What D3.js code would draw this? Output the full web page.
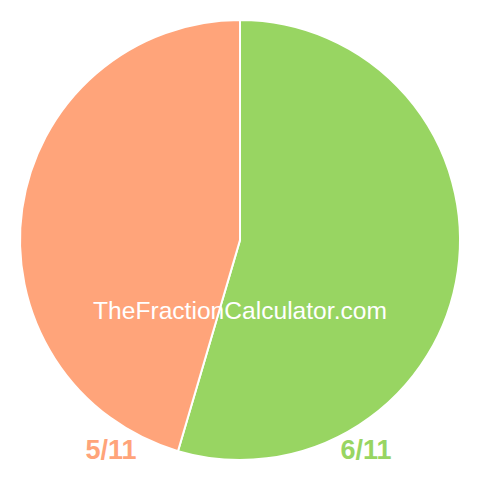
<!DOCTYPE html>
<html><head><meta charset="utf-8">
<script src="https://cdn.jsdelivr.net/npm/d3@7"></script>
<style>body{margin:0;background:#fff}svg{display:block}</style>
</head><body>
<svg width="480" height="480"></svg>
<script>
const labels = ["6/11", "5/11"];
const values = [6, 5];
const colors = ["#98D562", "#FFA47A"];
const watermark = "TheFractionCalculator.com";

const svg = d3.select("svg");
const cx = 240, cy = 240, r = 220;
const pie = d3.pie().sort(null).value(d => d)(values);
const arc = d3.arc().innerRadius(0).outerRadius(r);
const g = svg.append("g").attr("transform", `translate(${cx},${cy})`);
g.selectAll("path").data(pie).join("path")
  .attr("d", arc)
  .attr("fill", (d, i) => colors[i])
  .attr("stroke", "#fff")
  .attr("stroke-width", 2);

svg.append("text").attr("x", 240).attr("y", 319)
  .attr("text-anchor", "middle")
  .attr("font-family", "Liberation Sans, Arial, sans-serif")
  .attr("font-size", 24.6).attr("fill", "#fff").text(watermark);

const lx = [366, 111];
svg.selectAll("text.lbl").data(labels).join("text").attr("class", "lbl")
  .attr("x", (d, i) => lx[i]).attr("y", 459)
  .attr("text-anchor", "middle")
  .attr("font-family", "Liberation Sans, Arial, sans-serif")
  .attr("font-weight", "bold").attr("font-size", 27)
  .attr("fill", (d, i) => colors[i]).text(d => d);
</script>
</body></html>
